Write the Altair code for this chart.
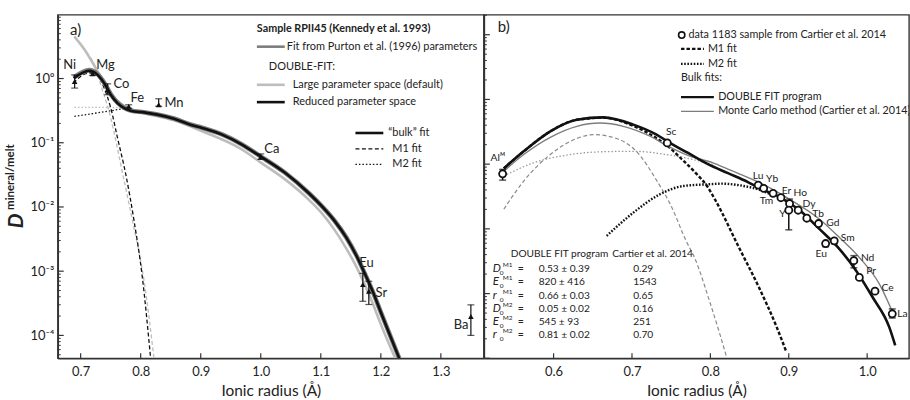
import altair as alt
import pandas as pd

FONT = "Lato"
W_A, W_B, H = 428, 427, 345

# ================= Panel a : sample RPII45 =================
a_elements = ["Ni", "Mg", "Co", "Fe", "Mn", "Ca", "Eu", "Sr", "Ba"]
a_radius = [0.69, 0.72, 0.745, 0.78, 0.83, 1.00, 1.17, 1.18, 1.35]
a_D = [0.90, 1.18, 0.668, 0.368, 0.391, 0.0596, 6.18e-4, 4.86e-4, 1.97e-4]
a_D_low = [0.71, 1.12, 0.559, 0.345, 0.37, 0.055, 3.4e-4, 3.03e-4, 1.0e-4]
a_D_high = [1.14, 1.25, 0.828, 0.39, 0.484, 0.067, 9.25e-4, 6.95e-4, 2.99e-4]
a_label_r = [0.6818, 0.7415, 0.768, 0.7945, 0.8554, 1.0184, 1.176, 1.2008, 1.3335]
a_label_D = [1.65, 1.65, 0.816, 0.49, 0.414, 0.0785, 0.00132, 4.59e-4, 1.47e-4]

# reduced parameter space bulk fit (black)
a_reduced_r = [0.6884, 0.7144, 0.7282, 0.7393, 0.7502, 0.7614, 0.7725, 0.7834, 0.8056,
               0.8277, 0.8554, 0.8829, 0.9023, 0.9355, 0.9687, 0.999, 1.0405, 1.0798,
               1.1013, 1.1229, 1.1428, 1.1594, 1.1726, 1.1859, 1.2008, 1.2174, 1.2307]
a_reduced_D = [1.01, 1.32, 1.14, 0.846, 0.559, 0.414, 0.347, 0.316, 0.297, 0.274, 0.237,
               0.191, 0.170, 0.134, 0.0938, 0.0618, 0.034, 0.01648, 0.01037, 0.00607,
               0.0033, 0.00174, 9.48e-4, 4.99e-4, 2.19e-4, 8.97e-5, 4.4e-5]
# Purton et al. (1996) parameters fit (medium grey, under the black curve)
a_purton_r = [0.6884, 0.7144, 0.7282, 0.7393, 0.7502, 0.7614, 0.7725, 0.7834, 0.8056,
              0.8277, 0.8554, 0.8829, 0.9023, 0.9355, 0.9687, 0.999, 1.0405, 1.0798,
              1.1013, 1.1229, 1.1428, 1.1594, 1.1726, 1.1859, 1.2008, 1.2174, 1.2307]
a_purton_D = [1.03, 1.35, 1.17, 0.86, 0.57, 0.42, 0.35, 0.318, 0.298, 0.275, 0.238, 0.192,
              0.171, 0.135, 0.094, 0.062, 0.0341, 0.0165, 0.0104, 0.0061, 0.00332, 0.00175,
              9.5e-4, 5.0e-4, 2.2e-4, 9.0e-5, 4.4e-5]
# large parameter space bulk fit (light grey)
a_large_r = [0.6896, 0.7088, 0.7254, 0.7365, 0.7448, 0.7531, 0.7663, 0.7829, 0.8056,
             0.8554, 0.9023, 0.9687, 0.999, 1.0405, 1.0793, 1.1013, 1.1229, 1.1428,
             1.1594, 1.1726, 1.1859, 1.2008, 1.224]
a_large_D = [4.48, 2.62, 1.44, 0.95, 0.72, 0.55, 0.41, 0.33, 0.289, 0.223, 0.151, 0.0785,
             0.0499, 0.0269, 0.01316, 0.00807, 0.0044, 0.00223, 0.00117, 6.4e-4, 3.25e-4,
             1.43e-4, 4.4e-5]
# M1 fits
a_m1_red_r = [0.6879, 0.7061, 0.7166, 0.7282, 0.7393, 0.7502, 0.7614, 0.7751, 0.789, 0.8028, 0.8166]
a_m1_red_D = [0.846, 1.166, 1.22, 1.11, 0.708, 0.347, 0.119, 0.0325, 0.00607, 8.0e-4, 4.35e-5]
a_m1_large_r = [0.6896, 0.7088, 0.7254, 0.731, 0.7502, 0.7697, 0.7862, 0.8056, 0.8222]
a_m1_large_D = [4.48, 2.62, 1.44, 0.955, 0.242, 0.034, 0.0062, 7.1e-4, 4.35e-5]
# M2 fits
a_m2_red_r = [0.6896, 0.7332, 0.778]
a_m2_red_D = [0.258, 0.297, 0.347]
a_m2_large_r = [0.6896, 0.7332, 0.778]
a_m2_large_D = [0.355, 0.355, 0.349]

a_x_ticks = [0.7, 0.8, 0.9, 1.0, 1.1, 1.2, 1.3]
a_y_decades = [1e-4, 1e-3, 1e-2, 1e-1, 1.0]

# ================= Panel b : sample 1183 =================
b_elements = ["Alᴹ", "Sc", "Lu", "Yb", "Tm", "Er", "Ho", "Y", "Dy", "Tb", "Gd", "Eu", "Sm",
              "Nd", "Pr", "Ce", "La"]
b_radius = [0.535, 0.745, 0.861, 0.868, 0.880, 0.890, 0.901, 0.900, 0.912, 0.923, 0.938,
            0.947, 0.958, 0.983, 0.990, 1.010, 1.032]
b_D = [0.071, 0.213, 0.0475, 0.0423, 0.0354, 0.0303, 0.0245, 0.0194, 0.0194, 0.0146,
       0.0121, 0.00594, 0.00654, 0.00322, 0.00178, 0.00109, 4.88e-4]
b_label_r = [0.5288, 0.7499, 0.8609, 0.8787, 0.8716, 0.897, 0.9147, 0.8919, 0.9257, 0.9375,
             0.9562, 0.9414, 0.9752, 1.0006, 1.005, 1.0261, 1.0451]
b_label_D = [0.124, 0.311, 0.0654, 0.0582, 0.027, 0.0384, 0.0355, 0.0168, 0.0238, 0.0167,
             0.0121, 0.00408, 0.00734, 0.00354, 0.00226, 0.00122, 4.87e-4]
b_err_radius = [0.535, 0.901, 0.900, 0.947, 0.958, 0.983, 1.032]
b_err_low = [0.0567, 0.0245, 0.00966, 0.0053, 0.0059, 0.0025, 4.2e-4]
b_err_high = [0.0829, 0.0289, 0.0194, 0.00594, 0.00654, 0.00386, 5.8e-4]

# DOUBLE FIT bulk (black)
b_dbl_r = [0.5365, 0.5619, 0.5958, 0.6296, 0.6635, 0.7017, 0.7313, 0.7483, 0.7715, 0.7969,
           0.8224, 0.8478, 0.863, 0.8884, 0.9138, 0.9393, 0.9647, 0.9859, 1.007, 1.0282, 1.0358]
b_dbl_D = [0.0859, 0.158, 0.322, 0.487, 0.529, 0.408, 0.286, 0.213, 0.149, 0.1, 0.0727,
           0.0529, 0.0423, 0.031, 0.0194, 0.00989, 0.00487, 0.00226, 8.77e-4, 3.03e-4, 1.58e-4]
# Monte Carlo bulk (grey)
b_mc_r = [0.5365, 0.5619, 0.5958, 0.6296, 0.6593, 0.6889, 0.7229, 0.7483, 0.7737, 0.8033,
          0.8224, 0.8376, 0.863, 0.9011, 0.9393, 0.9647, 0.99, 1.0155, 1.0333]
b_mc_D = [0.078, 0.141, 0.26, 0.384, 0.432, 0.384, 0.27, 0.183, 0.133, 0.105, 0.0838,
          0.0702, 0.0516, 0.0286, 0.0141, 0.00734, 0.00362, 0.00141, 4.87e-4]
# M1 fits
b_m1_dbl_r = [0.5365, 0.5619, 0.5958, 0.6296, 0.6635, 0.7017, 0.7313, 0.7471, 0.7636, 0.7814,
              0.7966, 0.8055, 0.8373, 0.8615, 0.8843, 0.8971]
b_m1_dbl_D = [0.0859, 0.158, 0.321, 0.485, 0.522, 0.39, 0.252, 0.183, 0.119, 0.0727, 0.0443,
              0.029, 0.00492, 0.00128, 3.1e-4, 1.24e-4]
b_m1_mc_r = [0.5365, 0.5619, 0.5958, 0.6296, 0.6508, 0.6804, 0.7105, 0.7296, 0.7499, 0.769,
             0.7804, 0.7995, 0.8122, 0.8211]
b_m1_mc_D = [0.0201, 0.0548, 0.141, 0.249, 0.286, 0.249, 0.135, 0.0609, 0.0226, 0.00654,
             0.00345, 7.27e-4, 2.34e-4, 1.0e-4]
# M2 fits
b_m2_dbl_r = [0.6677, 0.7017, 0.7356, 0.7652, 0.7991, 0.8144, 0.8376, 0.863, 0.8821]
b_m2_dbl_D = [0.0078, 0.0178, 0.0342, 0.0459, 0.049, 0.050, 0.047, 0.040, 0.032]
b_m2_mc_r = [0.5365, 0.5746, 0.6169, 0.6593, 0.7017, 0.744, 0.7779, 0.8033]
b_m2_mc_D = [0.0654, 0.105, 0.138, 0.155, 0.158, 0.141, 0.118, 0.0989]

b_x_ticks = [0.6, 0.7, 0.8, 0.9, 1.0]
b_y_decades = [1e-4, 1e-3, 1e-2, 1e-1, 1.0, 10.0]

# table of fit parameters
tab_symbol = ["D", "E", "r", "D", "E", "r"]
tab_site = ["M1", "M1", "M1", "M2", "M2", "M2"]
tab_double = ["0.53 ± 0.39", "820 ± 416", "0.66 ± 0.03", "0.05 ± 0.02", "545 ± 93", "0.81 ± 0.02"]
tab_cartier = ["0.29", "1543", "0.65", "0.16", "251", "0.70"]


def minor_ticks(lo, hi):
    out = []
    for e in range(-6, 3):
        for k in range(2, 10):
            v = k * 10.0 ** e
            if lo <= v <= hi:
                out.append(v)
    return out


# ---------------- scales / axes ----------------
xa_scale = alt.Scale(domain=[0.66186, 1.37164], nice=False, zero=False)
ya_scale = alt.Scale(type="log", domain=[4.40e-5, 9.82], nice=False)
xb_scale = alt.Scale(domain=[0.51106, 1.05337], nice=False, zero=False)
yb_scale = alt.Scale(type="log", domain=[1e-4, 20.3], nice=False)

common_ax = dict(grid=False, ticks=False, domainColor="#333", domainWidth=1.6,
                 labelFont=FONT, labelColor="#222", titleFont=FONT, titleColor="#222",
                 titleFontWeight="normal")
xa_axis = alt.Axis(values=a_x_ticks, format=".1f", labelPadding=7, labelFontSize=13,
                   titleFontSize=15.5, titlePadding=5, **common_ax)
xb_axis = alt.Axis(values=b_x_ticks, format=".1f", labelPadding=7, labelFontSize=13,
                   titleFontSize=15.5, titlePadding=5, **common_ax)
label_expr = ("datum.value >= 5 ? '10¹' : datum.value >= 0.5 ? '10⁰' : datum.value >= 0.05 ? '10⁻¹' : "
              "datum.value >= 0.005 ? '10⁻²' : datum.value >= 0.0005 ? '10⁻³' : '10⁻⁴'")
ya_axis = alt.Axis(values=a_y_decades, labelExpr=label_expr, labelPadding=4, labelFontSize=13,
                   **common_ax)
yb_axis = alt.Axis(values=b_y_decades, labels=False, **common_ax)

XT = "Ionic radius (Å)"


def XA(f):
    return alt.X(f"{f}:Q", scale=xa_scale, axis=xa_axis, title=XT)


def YA(f):
    return alt.Y(f"{f}:Q", scale=ya_scale, axis=ya_axis, title=None)


def XB(f):
    return alt.X(f"{f}:Q", scale=xb_scale, axis=xb_axis, title=XT)


def YB(f):
    return alt.Y(f"{f}:Q", scale=yb_scale, axis=yb_axis, title=None)


def curve(r, D, X, Y, color, width, dash=None):
    kw = dict(color=color, strokeWidth=width, interpolate="monotone", clip=True)
    if dash:
        kw["strokeDash"] = dash
    return alt.Chart(pd.DataFrame({"r": r, "D": D})).mark_line(**kw).encode(x=X("r"), y=Y("D"))


def pix_text(xs, ys, texts, size=11, weight="normal", style="normal", align="left",
             color="#222", angle=0, clip=False):
    df = pd.DataFrame({"px": xs, "py": ys, "t": texts})
    return alt.Chart(df).mark_text(font=FONT, fontSize=size, fontWeight=weight,
                                   fontStyle=style, align=align, baseline="middle",
                                   color=color, angle=angle, clip=clip).encode(
        x=alt.X("px:Q", scale=None, axis=None), y=alt.Y("py:Q", scale=None, axis=None),
        text="t:N")


def pix_rule(x1, x2, y, color, width, dash=None):
    kw = dict(color=color, strokeWidth=width)
    if dash:
        kw["strokeDash"] = dash
    return alt.Chart(pd.DataFrame({"a": [0]})).mark_rule(**kw).encode(
        x=alt.value(x1), x2=alt.value(x2), y=alt.value(y))


def inward_ticks(X, Y, xt, ymaj, ymin, h):
    lay = []
    lay.append(alt.Chart(pd.DataFrame({"t": xt})).mark_rule(color="#333", strokeWidth=1.2).encode(
        x=X("t"), y=alt.value(h), y2=alt.value(h - 5)))
    lay.append(alt.Chart(pd.DataFrame({"t": ymaj})).mark_rule(color="#333", strokeWidth=1.2).encode(
        y=Y("t"), x=alt.value(0), x2=alt.value(6)))
    lay.append(alt.Chart(pd.DataFrame({"t": ymin})).mark_rule(color="#333", strokeWidth=1).encode(
        y=Y("t"), x=alt.value(0), x2=alt.value(3)))
    return lay


def error_bars(r, lo, hi, X, Y, width=1.3, cap=7):
    df = pd.DataFrame({"r": r, "lo": lo, "hi": hi})
    caps = pd.DataFrame({"r": r + r, "v": lo + hi})
    bars = alt.Chart(df).mark_rule(color="#111", strokeWidth=width).encode(
        x=X("r"), y=Y("lo"), y2="hi:Q")
    tks = alt.Chart(caps).mark_tick(color="#111", orient="horizontal", size=cap,
                                    thickness=width).encode(x=X("r"), y=Y("v"))
    return [bars, tks]


# ================= build panel a =================
GREY_L = "#bdbdbd"
GREY_M = "#7d7d7d"
LEG_A = 11
la = []
la.append(curve(a_m2_large_r, a_m2_large_D, XA, YA, GREY_L, 1.3, [1.5, 2]))
la.append(curve(a_m2_red_r, a_m2_red_D, XA, YA, "#111", 1.3, [1.5, 2]))
la.append(curve(a_m1_large_r, a_m1_large_D, XA, YA, GREY_L, 1.3, [4, 2.5]))
la.append(curve(a_m1_red_r, a_m1_red_D, XA, YA, "#111", 1.3, [4, 2.5]))
la.append(curve(a_large_r, a_large_D, XA, YA, GREY_L, 2.6))
la.append(curve(a_purton_r, a_purton_D, XA, YA, GREY_M, 4.6))
la.append(curve(a_reduced_r, a_reduced_D, XA, YA, "#111", 2.6))
la += error_bars(a_radius, a_D_low, a_D_high, XA, YA, width=1.2, cap=7)
la.append(alt.Chart(pd.DataFrame({"r": a_radius, "D": a_D})).mark_point(
    shape="triangle-up", filled=True, color="#111", size=32, opacity=1).encode(x=XA("r"), y=YA("D")))
la.append(alt.Chart(pd.DataFrame({"r": a_label_r, "D": a_label_D, "t": a_elements})).mark_text(
    font=FONT, fontSize=13, color="#222", baseline="middle").encode(x=XA("r"), y=YA("D"), text="t:N"))
la += inward_ticks(XA, YA, a_x_ticks, a_y_decades, minor_ticks(4.40e-5, 9.82), H)
# panel letter + legends (pixel positions)
la.append(pix_text([18], [15], ["a)"], size=15, align="center"))
la.append(pix_text([200], [14.5], ["Sample RPII45 (Kennedy et al. 1993)"], size=10.8, weight="bold"))
la.append(pix_rule(200, 228, 32, GREY_M, 2.6))
la.append(pix_text([230], [32], ["Fit from Purton et al. (1996) parameters"], size=LEG_A))
la.append(pix_text([212], [52], ["DOUBLE-FIT:"], size=LEG_A))
la.append(pix_rule(200, 228, 70.3, GREY_L, 2.6))
la.append(pix_text([236], [70.3], ["Large parameter space (default)"], size=LEG_A))
la.append(pix_rule(200, 228, 87.7, "#111", 2.6))
la.append(pix_text([236], [87.7], ["Reduced parameter space"], size=LEG_A))
la.append(pix_rule(299, 327, 118.7, "#111", 2.6))
la.append(pix_text([332], [118.7], ["“bulk” fit"], size=LEG_A))
la.append(pix_rule(299, 327, 134.7, "#111", 1.2, [4, 2.5]))
la.append(pix_text([336], [134.7], ["M1 fit"], size=LEG_A))
la.append(pix_rule(299, 327, 150.3, "#111", 1.2, [1.5, 2]))
la.append(pix_text([336], [150.3], ["M2 fit"], size=LEG_A))
# y axis title D^mineral/melt
la.append(pix_text([-41], [207], ["D"], size=21, weight="bold", style="italic", align="center",
                    angle=270))
la.append(pix_text([-47], [163], ["mineral/melt"], size=11.5, weight="bold", align="center",
                    angle=270))
panel_a = alt.layer(*la).properties(width=W_A, height=H)

# ================= build panel b =================
LEG_B = 10.8
lb = []
lb.append(curve(b_m2_mc_r, b_m2_mc_D, XB, YB, "#9a9a9a", 1.3, [1.5, 2]))
lb.append(curve(b_m1_mc_r, b_m1_mc_D, XB, YB, "#8a8a8a", 1.2, [4, 2.5]))
lb.append(curve(b_m2_dbl_r, b_m2_dbl_D, XB, YB, "#111", 2.4, [1.6, 1.6]))
lb.append(curve(b_m1_dbl_r, b_m1_dbl_D, XB, YB, "#111", 2.4, [3.5, 2]))
lb.append(curve(b_mc_r, b_mc_D, XB, YB, GREY_M, 1.4))
lb.append(curve(b_dbl_r, b_dbl_D, XB, YB, "#111", 2.6))
lb += error_bars(b_err_radius, b_err_low, b_err_high, XB, YB, width=1.5, cap=7)
lb.append(alt.Chart(pd.DataFrame({"r": b_radius, "D": b_D})).mark_point(
    shape="circle", filled=False, color="#111", fill="white", fillOpacity=1, strokeWidth=1.8,
    size=50, opacity=1).encode(x=XB("r"), y=YB("D")))
lb.append(alt.Chart(pd.DataFrame({"r": b_label_r, "D": b_label_D, "t": b_elements})).mark_text(
    font=FONT, fontSize=10.3, color="#222", baseline="middle").encode(x=XB("r"), y=YB("D"), text="t:N"))
lb += inward_ticks(XB, YB, b_x_ticks, b_y_decades, minor_ticks(1e-4, 20.3), H)
lb.append(pix_text([20], [12], ["b)"], size=15, align="center"))
# legend
lb.append(alt.Chart(pd.DataFrame({"a": [0]})).mark_point(
    shape="circle", filled=False, color="#111", strokeWidth=1.6, size=40, opacity=1).encode(
    x=alt.value(198.7), y=alt.value(20.3)))
lb.append(pix_text([205.5], [20.3], ["data 1183 sample from Cartier et al. 2014"], size=LEG_B, clip=True))
lb.append(pix_rule(198, 221, 34.3, "#111", 2.2, [3.5, 2]))
lb.append(pix_text([225], [34.3], ["M1 fit"], size=LEG_B))
lb.append(pix_rule(198, 221, 49.3, "#111", 2.2, [1.6, 1.6]))
lb.append(pix_text([225], [49.3], ["M2 fit"], size=LEG_B))
lb.append(pix_text([198], [63.7], ["Bulk fits:"], size=LEG_B))
lb.append(pix_rule(198, 231, 82.7, "#111", 2.2))
lb.append(pix_text([235.3], [82.7], ["DOUBLE FIT program"], size=LEG_B))
lb.append(pix_rule(198, 231, 97, GREY_M, 1.4))
lb.append(pix_text([235.3], [97], ["Monte Carlo method (Cartier et al. 2014)"], size=LEG_B, clip=True))
# parameter table
rows_y = [255.3, 268.7, 282, 295.3, 308.7, 322]
lb.append(pix_text([27, 129], [240.3, 240.3], ["DOUBLE FIT program", "Cartier et al. 2014"], size=10.2))
lb.append(pix_text([9] * 6, rows_y, tab_symbol, size=11.5, style="italic"))
lb.append(pix_text([16] * 6, [y + 4 for y in rows_y], ["0"] * 6, size=6.5))
lb.append(pix_text([19] * 6, [y - 4 for y in rows_y], tab_site, size=6.5))
lb.append(pix_text([34] * 6, rows_y, ["="] * 6, size=10.5))
lb.append(pix_text([55] * 6, rows_y, tab_double, size=10.2))
lb.append(pix_text([150] * 6, rows_y, tab_cartier, size=10.2))
panel_b = alt.layer(*lb).properties(width=W_B, height=H)

chart = alt.hconcat(panel_a, panel_b, spacing=0, bounds="flush").configure_view(
    stroke="#333", strokeWidth=1.4).properties(
    padding={"left": 4, "top": 13, "right": 0, "bottom": 0}, background="white")

chart.save("out.html", embed_options={"renderer": "svg", "actions": False})
